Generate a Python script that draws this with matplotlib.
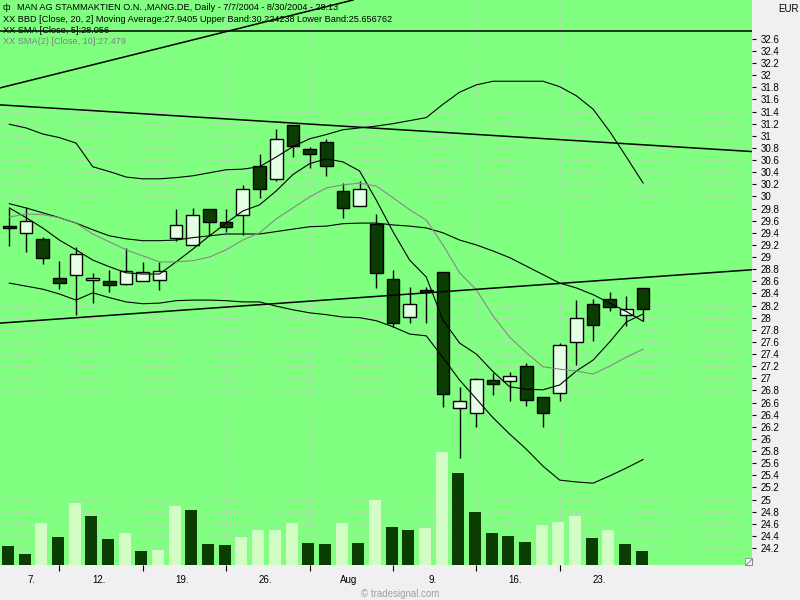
import numpy as np
import pandas as pd
import matplotlib
matplotlib.use('Agg')
import matplotlib.pyplot as plt
from matplotlib.patches import Polygon
from matplotlib.ticker import FuncFormatter

plt.rcParams['font.family'] = ['Liberation Sans Narrow', 'Liberation Sans', 'DejaVu Sans']

# trading days 7/7/2004 - 8/30/2004
dates = pd.bdate_range('2004-07-07', '2004-08-30')

opens = [29.52, 29.40, 29.29, 28.66, 28.70, 28.62, 28.60, 28.55, 28.60, 28.62,
         29.31, 29.20, 29.79, 29.58, 29.70, 30.50, 30.29, 31.18, 30.78, 30.90,
         30.09, 29.84, 29.55, 28.63, 28.01, 28.46, 28.75, 26.51, 26.42, 26.97,
         26.95, 27.20, 26.69, 26.75, 27.60, 28.22, 28.30, 28.04, 28.49]
highs = [29.81, 29.82, 29.33, 28.94, 29.16, 28.74, 28.79, 29.15, 28.92, 28.91,
         29.79, 29.81, 29.79, 29.79, 30.19, 30.70, 31.11, 31.18, 30.81, 30.95,
         30.22, 30.26, 29.71, 28.79, 28.50, 28.50, 28.75, 26.85, 27.00, 27.08,
         27.10, 27.25, 26.69, 27.59, 28.29, 28.31, 28.42, 28.36, 28.49]
lows = [29.18, 29.09, 28.88, 28.47, 28.05, 28.25, 28.43, 28.54, 28.60, 28.45,
        29.26, 29.20, 29.35, 29.42, 29.37, 29.98, 30.25, 30.65, 30.47, 30.33,
        29.64, 29.84, 28.49, 27.85, 27.91, 27.91, 26.52, 25.69, 26.20, 26.73,
        26.62, 26.55, 26.20, 26.62, 27.22, 27.62, 28.11, 27.87, 27.95]
closes = [29.48, 29.60, 28.99, 28.57, 29.05, 28.65, 28.54, 28.77, 28.75, 28.77,
          29.53, 29.69, 29.57, 29.49, 30.13, 30.12, 30.94, 30.83, 30.70, 30.50,
          29.81, 30.12, 28.73, 27.91, 28.22, 28.43, 26.74, 26.62, 26.98, 26.90,
          27.03, 26.64, 26.42, 27.55, 27.99, 27.88, 28.17, 28.14, 28.14]

# volume (thousand shares) and bar shade (1 = light)
volume = [190, 110, 420, 280, 620, 490, 260, 320, 140, 150,
          590, 550, 210, 200, 280, 350, 350, 420, 220, 210,
          420, 220, 650, 380, 350, 370, 1130, 920, 530, 320,
          290, 230, 400, 430, 490, 270, 350, 210, 140]
vol_light = [0, 0, 1, 0, 1, 0, 0, 1, 0, 1,
             1, 0, 0, 0, 1, 1, 1, 1, 0, 0,
             1, 0, 1, 0, 0, 1, 1, 0, 0, 0,
             0, 0, 1, 1, 1, 0, 1, 0, 0]

bb_upper = [31.19, 31.13, 31.03, 30.97, 30.88, 30.49, 30.41, 30.32, 30.29, 30.29,
            30.31, 30.34, 30.39, 30.44, 30.45, 30.49, 30.65, 30.82, 30.95, 31.02,
            31.10, 31.13, 31.16, 31.20, 31.25, 31.30, 31.52, 31.72, 31.84, 31.90,
            31.90, 31.90, 31.90, 31.81, 31.66, 31.44, 31.07, 30.65, 30.22]
bb_mid = [29.88, 29.81, 29.73, 29.65, 29.56, 29.45, 29.35, 29.30, 29.27, 29.27,
          29.28, 29.32, 29.35, 29.38, 29.38, 29.38, 29.42, 29.46, 29.50, 29.51,
          29.55, 29.56, 29.56, 29.53, 29.51, 29.48, 29.40, 29.28, 29.20, 29.10,
          28.99, 28.85, 28.71, 28.57, 28.49, 28.38, 28.24, 28.10, 27.94]
bb_lower = [28.57, 28.52, 28.47, 28.39, 28.29, 28.41, 28.33, 28.26, 28.23, 28.24,
            28.28, 28.29, 28.29, 28.28, 28.26, 28.26, 28.19, 28.13, 28.08, 28.05,
            28.01, 28.00, 27.95, 27.85, 27.73, 27.70, 27.34, 26.97, 26.66, 26.35,
            26.08, 25.83, 25.55, 25.32, 25.29, 25.27, 25.39, 25.52, 25.66]
sma5 = [29.81, 29.65, 29.48, 29.28, 29.12, 28.95, 28.84, 28.74, 28.72, 28.72,
        28.92, 29.13, 29.35, 29.56, 29.76, 29.86, 30.09, 30.36, 30.54, 30.62,
        30.57, 30.42, 29.94, 29.42, 28.95, 28.67, 27.96, 27.58, 27.40, 27.11,
        26.86, 26.82, 26.81, 26.89, 27.12, 27.30, 27.60, 27.93, 28.06]
sma10 = [29.66, 29.71, 29.70, 29.65, 29.56, 29.38, 29.25, 29.12, 29.02, 28.92,
         28.92, 28.94, 29.00, 29.12, 29.28, 29.40, 29.63, 29.81, 29.99, 30.14,
         30.19, 30.22, 30.17, 29.98, 29.78, 29.61, 29.20, 28.74, 28.46, 28.03,
         27.68, 27.42, 27.19, 27.15, 27.12, 27.07, 27.20, 27.35, 27.48]

# hand drawn trend lines, (bar index, price) end points
trend_lines = [
    ((-0.56, 31.79), (20.61, 33.24)),
    ((-0.56, 31.51), (44.53, 30.74)),
    ((-0.56, 27.91), (44.53, 28.79)),
    ((-0.56, 32.73), (44.53, 32.73)),
]

BG = '#80ff80'
PANEL = '#f0f0f0'
DARK = '#0b3d02'
LIGHT = '#e4ffe4'
VOL_LIGHT = '#d2fdc4'
GRID = '#c8c0c8'

x = np.arange(len(dates))
o = np.array(opens)
c = np.array(closes)
up = c >= o

fig = plt.figure(figsize=(8, 6), dpi=100, facecolor=PANEL)
rect = [0, 35 / 600, 752 / 800, 565 / 600]
ax = fig.add_axes(rect, facecolor=BG)
axv = fig.add_axes(rect, sharex=ax)
axv.patch.set_visible(False)
axv.axis('off')

# volume
axv.bar(x - 0.08, volume, width=0.72,
        color=[VOL_LIGHT if v else DARK for v in vol_light], linewidth=0)
axv.set_ylim(0, 5650)

# candles
ax.vlines(x, lows, highs, color='black', linewidth=1, zorder=2)
ax.bar(x, np.maximum(np.abs(c - o), 0.012), bottom=np.minimum(o, c), width=0.76,
       color=[LIGHT if u else DARK for u in up], edgecolor='black', linewidth=1, zorder=3)

# indicators
for band in (bb_upper, bb_mid, bb_lower, sma5):
    ax.plot(x, band, color='black', linewidth=0.8, zorder=4)
ax.plot(x, sma10, color='#888888', linewidth=0.8, zorder=4)
for (x0, p0), (x1, p1) in trend_lines:
    ax.plot([x0, x1], [p0, p1], color='black', linewidth=1.1, zorder=4)

ax.set_xlim(-0.56, 44.53)
ax.set_ylim(23.92, 33.24)

# price axis on the right
ax.yaxis.tick_right()
ax.set_yticks(np.arange(24.2, 32.61, 0.2))
ax.yaxis.set_major_formatter(FuncFormatter(lambda v, p: f'{round(v, 1):g}'))
ax.tick_params(axis='y', direction='out', length=3, pad=3, labelsize=7, colors='black')

# week ticks and labels
mondays = [i for i in range(1, len(dates) - 1) if dates[i].weekday() == 0]
starts = [0] + mondays
ends = mondays + [len(dates) - 1]
label_pos = [(s + e - 1) / 2 + 0.35 for s, e in zip(starts, ends)]
labels = []
for k, s in enumerate(starts):
    d = dates[s]
    if k > 0 and d.month != dates[starts[k - 1]].month:
        labels.append(d.strftime('%b'))
    else:
        labels.append(f'{d.day}.')
ax.set_xticks(mondays)
ax.set_xticklabels([])
ax.set_xticks(label_pos, minor=True)
ax.set_xticklabels(labels, minor=True)
ax.tick_params(axis='x', which='major', direction='out', length=4, colors='black')
ax.tick_params(axis='x', which='minor', length=0, pad=7, labelsize=7)

ax.grid(True, which='major', color=GRID, linestyle=(0, (1, 3)), linewidth=0.7)
ax.set_axisbelow(True)
for sp in ax.spines.values():
    sp.set_visible(False)

# resize corner
fig.patches.append(Polygon([(745 / 800, 35 / 600), (752 / 800, 35 / 600), (752 / 800, 42 / 600)],
                           closed=True, transform=fig.transFigure,
                           facecolor='#f4f4f4', edgecolor='#707070', linewidth=0.6))
fig.patches.append(Polygon([(745 / 800, 35 / 600), (745 / 800, 42 / 600), (752 / 800, 42 / 600)],
                           closed=True, transform=fig.transFigure,
                           facecolor='white', edgecolor='#909090', linewidth=0.6))

# legend header
def px(xp, yp):
    return xp / 800, 1 - yp / 600

fs = 6.6
fig.text(*px(3, 10), 'ф', fontsize=fs)
fig.text(*px(17, 10), 'MAN AG STAMMAKTIEN O.N. ,MANG.DE, Daily - 7/7/2004 - 8/30/2004 - 28.13',
         fontsize=fs)
rows = [
    ('XX BBD [Close, 20, 2] Moving Average:27.9405 Upper Band:30.224238 Lower Band:25.656762', 'black'),
    ('XX SMA [Close, 5]:28.056', 'black'),
    ('XX SMA(2) [Close, 10]:27.479', '#808080'),
]
for k, (txt, col) in enumerate(rows):
    fig.text(*px(3, 21.5 + 11.5 * k), txt, fontsize=fs, color=col)

fig.text(*px(778, 12), 'EUR', fontsize=7)
fig.text(*px(400, 597), '© tradesignal.com', fontsize=7, color='#a0a0a0', ha='center')

fig.savefig('out.png', dpi=100, facecolor=PANEL)
